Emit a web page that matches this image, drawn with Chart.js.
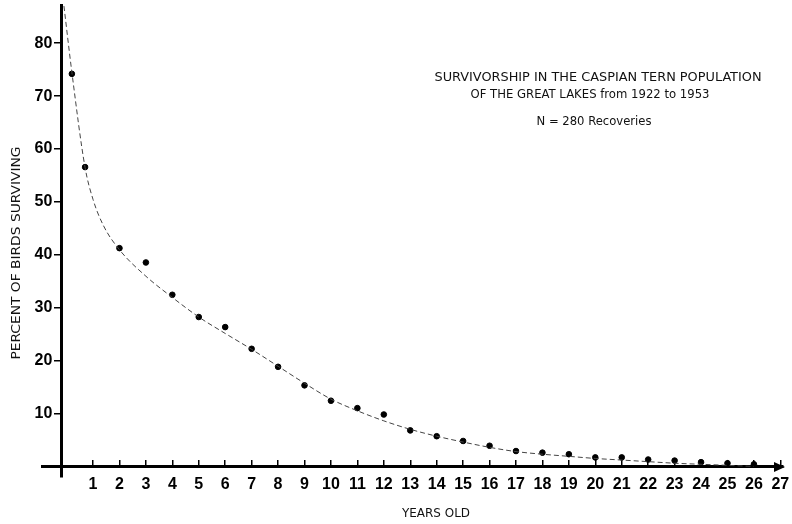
<!DOCTYPE html>
<html>
<head>
<meta charset="utf-8">
<script src="https://cdn.jsdelivr.net/npm/chart.js@4.4.0/dist/chart.umd.min.js"></script>
<style>
  html, body { margin: 0; padding: 0; background: #fff; }
  #wrap { width: 792px; height: 524px; }
</style>
</head>
<body>
<div id="wrap"><canvas id="tern" width="792" height="524"></canvas></div>
<script>
// age of each recovery group (years) and percent of birds still alive
var ages = [0.2, 0.7, 2, 3, 4, 5, 6, 7, 8, 9, 10, 11, 12, 13, 14, 15, 16, 17, 18, 19, 20, 21, 22, 23, 24, 25, 26];
var percentSurviving = [74.2, 56.6, 41.3, 38.6, 32.5, 28.3, 26.4, 22.3, 18.9, 15.4, 12.5, 11.1, 9.9, 6.9, 5.8, 4.9, 4.0, 3.0, 2.7, 2.4, 1.8, 1.8, 1.4, 1.2, 0.9, 0.7, 0.5];

// the dashed smoothed survivorship curve
var curveAges = [-0.1, 0.2, 0.7, 1, 1.4, 2, 3, 4, 5, 6, 7, 8, 9, 10, 11, 12, 13, 14, 15, 16, 17, 18, 19, 20, 21, 22, 23, 24, 25, 26];
var curvePercent = [87, 74.5, 56.5, 50.5, 45.5, 41, 36, 32, 28.3, 25.2, 22.2, 19, 15.8, 12.8, 10.6, 8.7, 7.1, 5.8, 4.7, 3.7, 2.9, 2.4, 2.0, 1.6, 1.3, 1.0, 0.7, 0.5, 0.3, 0.1];

var xTicks = [1, 2, 3, 4, 5, 6, 7, 8, 9, 10, 11, 12, 13, 14, 15, 16, 17, 18, 19, 20, 21, 22, 23, 24, 25, 26, 27];
var yTicks = [10, 20, 30, 40, 50, 60, 70, 80];

var titleLines = [
  'SURVIVORSHIP IN THE CASPIAN TERN POPULATION',
  'OF THE GREAT LAKES from 1922 to 1953',
  'N = 280 Recoveries'
];
var xTitle = 'YEARS OLD';
var yTitle = 'PERCENT OF BIRDS SURVIVING';

var narrowFont = '"DejaVu Sans Condensed", "Liberation Sans Narrow", "Liberation Sans", sans-serif';
var tickFont = { family: '"Liberation Sans", Arial, sans-serif', weight: 'bold', size: 16 };

// draw a line of text squeezed to a given width
function fitText(ctx, text, cx, cy, width, size, rot) {
  ctx.save();
  ctx.font = size + 'px ' + narrowFont;
  var w = ctx.measureText(text).width;
  ctx.translate(cx, cy);
  if (rot) ctx.rotate(rot);
  ctx.scale(width / w, 1);
  ctx.textAlign = 'center';
  ctx.textBaseline = 'middle';
  ctx.fillStyle = '#111';
  ctx.fillText(text, 0, 0);
  ctx.restore();
}

var labels = {
  id: 'labels',
  afterDraw: function(chart) {
    var ctx = chart.ctx;
    var xs = chart.scales.x, ys = chart.scales.y;
    // arrow head on the age axis
    var ax = xs.right, ay = ys.getPixelForValue(0);
    ctx.save();
    ctx.fillStyle = '#000';
    ctx.beginPath();
    ctx.moveTo(ax + 2, ay);
    ctx.lineTo(ax - 9, ay - 5);
    ctx.lineTo(ax - 9, ay + 5);
    ctx.closePath();
    ctx.fill();
    ctx.restore();

    fitText(ctx, titleLines[0], 598, 78, 327, 11.5);
    fitText(ctx, titleLines[1], 590, 95, 239, 11.5);
    fitText(ctx, titleLines[2], 594, 122, 115, 11.5);
    fitText(ctx, xTitle, 436, 514, 68, 11.5);
    fitText(ctx, yTitle, 17, 253, 213, 12.5, -Math.PI / 2);
  }
};

var ctx = document.getElementById('tern').getContext('2d');
new Chart(ctx, {
  type: 'scatter',
  data: {
    datasets: [{
      label: 'curve',
      data: curveAges.map(function(a, i) { return { x: a, y: curvePercent[i] }; }),
      showLine: true,
      borderColor: '#444',
      borderWidth: 1,
      borderDash: [5, 3],
      pointRadius: 0,
      cubicInterpolationMode: 'monotone',
      fill: false
    }, {
      label: 'recoveries',
      data: ages.map(function(a, i) { return { x: a, y: percentSurviving[i] }; }),
      backgroundColor: '#000',
      borderColor: '#000',
      pointRadius: 2.8
    }]
  },
  options: {
    responsive: false,
    animation: false,
    layout: { padding: { left: 42, right: 9, top: 5, bottom: 47 } },
    plugins: {
      legend: { display: false },
      tooltip: { enabled: false }
    },
    scales: {
      x: {
        type: 'linear',
        min: -0.93,
        max: 27.1,
        position: { y: 0 },
        afterBuildTicks: function(s) { s.ticks = xTicks.map(function(v) { return { value: v }; }); },
        afterFit: function(s) { s.paddingLeft = 0; s.paddingRight = 0; },
        ticks: { font: tickFont, color: '#000', padding: 16, autoSkip: false, maxRotation: 0 },
        grid: { drawOnChartArea: false, color: '#000', lineWidth: 1.5, tickLength: -8 },
        border: { color: '#000', width: 3 }
      },
      y: {
        type: 'linear',
        min: -1.9,
        max: 87.2,
        position: { x: -0.2 },
        afterBuildTicks: function(s) { s.ticks = yTicks.map(function(v) { return { value: v }; }); },
        afterFit: function(s) { s.paddingTop = 0; s.paddingBottom = 0; },
        // labels on a pinned axis sit right on the line, so pad them with spaces
        ticks: { font: tickFont, color: '#000', autoSkip: false, callback: function(v) { return v + '  '; } },
        grid: { drawOnChartArea: false, color: '#000', lineWidth: 1.5, tickLength: 6 },
        border: { color: '#000', width: 3 }
      }
    }
  },
  plugins: [labels]
});
</script>
</body>
</html>
